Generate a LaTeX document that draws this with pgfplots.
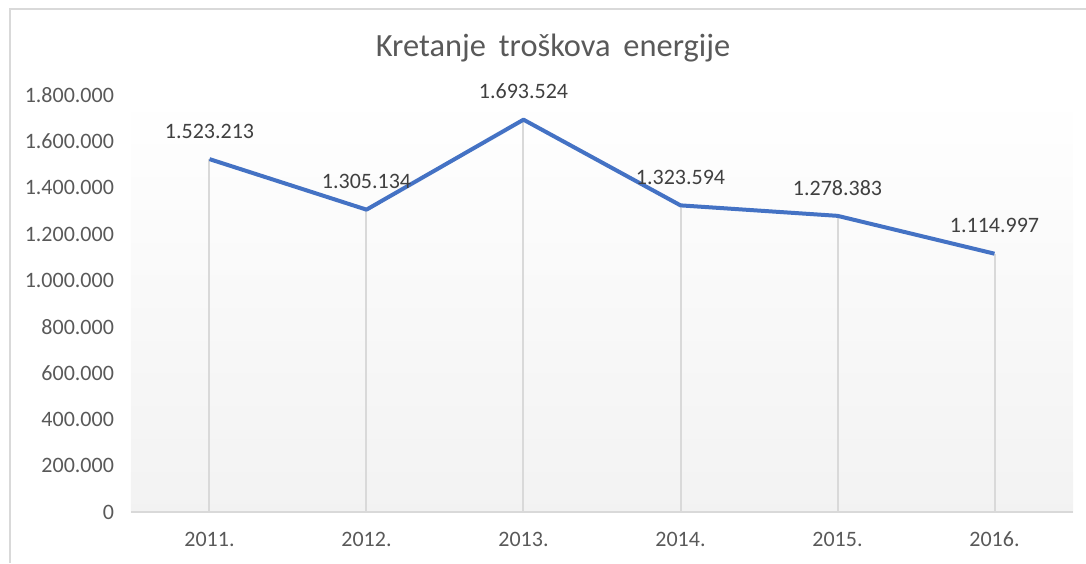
\documentclass[border=0pt]{standalone}
\usepackage{pgfplots}
\pgfplotsset{compat=1.18}
\usepackage{fontspec}
\setmainfont{Carlito}
\definecolor{exblue}{RGB}{68,114,196}
\definecolor{txtgray}{RGB}{89,89,89}
\definecolor{lblgray}{RGB}{64,64,64}
\definecolor{linegray}{RGB}{217,217,217}

\begin{document}
\begin{tikzpicture}
\path[use as bounding box] (0,0) rectangle (543pt,281.5pt);
\draw[linegray, line width=1pt] (5pt,0) -- (5pt,277pt) -- (543pt,277pt);
\node[txtgray, font=\fontsize{16.2}{19}\selectfont] at (276.5pt,257.5pt) {Kretanje\hspace{0.4em}troškova\hspace{0.4em}energije};
\begin{axis}[
    at={(65.5pt,25.5pt)}, anchor=south west,
    scale only axis,
    width=471pt, height=208.5pt,
    xmin=-0.5, xmax=5.5,
    ymin=0, ymax=1800000,
    xtick={0,1,2,3,4,5},
    xticklabels={2011.,2012.,2013.,2014.,2015.,2016.},
    ytick={0,200000,...,1800000},
    scaled y ticks=false,
    axis line style={draw=none},
    axis x line*=bottom,
    axis y line*=left,
    major tick length=0pt,
    tick label style={font=\fontsize{11}{13}\selectfont, text=txtgray},
    /pgf/number format/fixed,
    /pgf/number format/precision=0,
    /pgf/number format/1000 sep={.},
    /pgf/number format/assume math mode=true,
    y tick label style={xshift=-5pt},
    x tick label style={yshift=-6.5pt},
    axis background/.style={top color=white, bottom color=black!5},
    clip=false,
]
\addplot[ycomb, draw=linegray, line width=1pt, no marks] coordinates {
    (0,1523213) (1,1305134) (2,1693524) (3,1323594) (4,1278383) (5,1114997)
};
\draw[linegray, line width=1.2pt] (axis cs:-0.5,0) -- (axis cs:5.5,0);
\addplot[exblue, line width=2pt, no marks, line join=round,
    nodes near coords,
    nodes near coords style={font=\fontsize{11}{13}\selectfont, text=lblgray, anchor=south, yshift=6pt},
] coordinates {
    (0,1523213) (1,1305134) (2,1693524) (3,1323594) (4,1278383) (5,1114997)
};
\end{axis}
\end{tikzpicture}
\end{document}
